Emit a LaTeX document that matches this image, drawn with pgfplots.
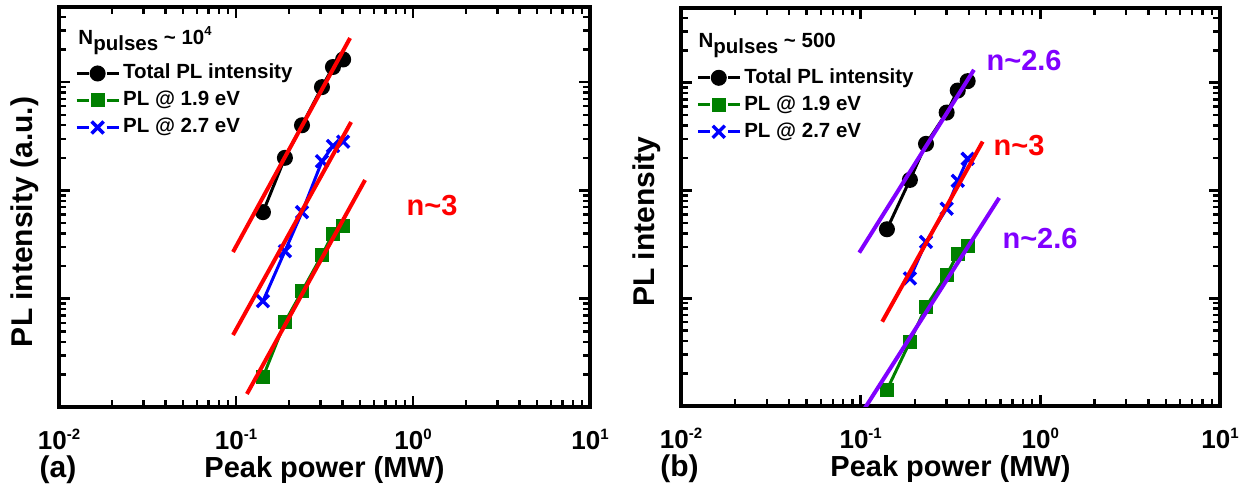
\documentclass[border=0pt]{standalone}
\usepackage{fontspec}
\setmainfont{Liberation Sans}
\usepackage{pgfplots}
\pgfplotsset{compat=1.18}
\definecolor{pgreen}{RGB}{0,128,0}
\definecolor{pviolet}{RGB}{128,0,255}
\newcommand\tlab[1]{10\raisebox{10pt}{\fontsize{15}{15}\selectfont #1}}
\newcommand\nlab{\fontsize{29}{29}\selectfont\bfseries}
\pgfplotsset{
 every axis/.append style={
  scale only axis, xmin=0.01, xmax=10, ymin=1, ymax=4943, clip mode=individual,
  xtick={0.01,0.1,1,10}, xticklabels={\tlab{-2},\tlab{-1},\tlab{0},\tlab{1}},
  extra x ticks={0.02,0.03,0.04,0.05,0.06,0.07,0.08,0.09,0.2,0.3,0.4,0.5,0.6,0.7,0.8,0.9,2,3,4,5,6,7,8,9},
  extra x tick labels={},
  ytick={1,10,100,1000}, yticklabels={},
  extra y ticks={2,3,4,5,6,7,8,9,20,30,40,50,60,70,80,90,200,300,400,500,600,700,800,900,2000,3000,4000},
  extra y tick labels={},
  extra tick style={major tick length=7pt, every major tick/.append style={line width=2.4pt, black}},
  xtick pos=both, ytick pos=both, tick align=inside,
  major tick length=11pt,
  every major tick/.append style={line width=2.6pt, black},
  axis line style={line width=3.5pt},
  xticklabel style={font=\fontsize{26}{26}\selectfont\bfseries, anchor=base, yshift=-42pt},
  xlabel style={font=\fontsize{29}{29}\selectfont\bfseries, at={(axis description cs:0.5,0)}, anchor=base, yshift=-70pt},
  ylabel style={font=\fontsize{30}{30}\selectfont\bfseries, at={(axis description cs:-0.064,0.4625)}, anchor=center},
  legend cell align=left,
  legend style={anchor=north west, draw=none, fill=none, inner sep=0pt,
    font=\fontsize{20.5}{20.5}\selectfont\bfseries, row sep=4pt,
    nodes={inner xsep=3pt, inner ysep=2pt, text height=15pt, text depth=4pt}},
 },
 legend image code/.code={\draw[mark repeat=2,mark phase=2,#1,dash pattern=on 12pt off 18pt on 12pt] plot coordinates {(0pt,0pt)(21pt,0pt)(42pt,0pt)};},
 stot/.style={black, line width=3pt, mark=*, mark size=6.5pt, mark options={solid}},
 sg/.style={pgreen, line width=3pt, mark=square*, mark size=5.5pt, mark options={solid}},
 sb/.style={blue, line width=3pt, mark=x, mark size=8.5pt, mark options={solid, line width=3.4pt}},
 fitl/.style={line width=4pt, forget plot},
}
\begin{document}
\begin{tikzpicture}
\useasboundingbox (0,0) rectangle (1249pt,495pt);
% ---------------- panel (a)
\begin{loglogaxis}[at={(59pt,88pt)}, anchor=south west, width=531pt, height=400pt,
  xlabel={Peak power (MW)}, ylabel={PL intensity (a.u.)},
  legend style={at={(axis description cs:0.030,0.863)}}]
\addplot[stot] coordinates {(0.142,63) (0.189,200) (0.236,400) (0.306,900) (0.353,1380) (0.403,1620)};
\addlegendentry{Total PL intensity}
\addplot[sg] coordinates {(0.142,1.89) (0.189,6.08) (0.236,11.7) (0.306,25.3) (0.353,40) (0.403,46.7)};
\addlegendentry{PL @ 1.9 eV}
\addplot[sb] coordinates {(0.142,9.5) (0.189,27.5) (0.236,63) (0.306,186) (0.353,257) (0.403,282)};
\addlegendentry{PL @ 2.7 eV}
\addplot[fitl, red] coordinates {(0.0962,27.0) (0.441,2553)};
\addplot[fitl, red] coordinates {(0.0962,4.62) (0.447,428)};
\addplot[fitl, red] coordinates {(0.1153,1.32) (0.536,124.7)};
\node[anchor=west, text=red, font=\nlab] at (axis cs:0.879,71.8) {n\textasciitilde3};
\node[anchor=base west, font=\fontsize{20.5}{20.5}\selectfont\bfseries] at (axis description cs:0.030,0.905)
  {N\raisebox{-6pt}{pulses} \textasciitilde{} 10\raisebox{9pt}{\fontsize{13}{13}\selectfont 4}};
\node[anchor=base west, font=\fontsize{30}{30}\selectfont\bfseries] at (axis description cs:-0.043,-0.177) {(a)};
\end{loglogaxis}
% ---------------- panel (b)
\begin{loglogaxis}[at={(681pt,89pt)}, anchor=south west, width=539pt, height=398pt,
  xlabel={Peak power (MW)}, ylabel={PL intensity},
  legend style={at={(axis description cs:0.028,0.854)}}]
\addplot[stot] coordinates {(0.140,43.7) (0.188,125.4) (0.231,271) (0.301,529) (0.347,847) (0.394,1035)};
\addlegendentry{Total PL intensity}
\addplot[sg] coordinates {(0.140,1.41) (0.188,3.95) (0.231,8.36) (0.301,16.5) (0.347,25.8) (0.394,30.6)};
\addlegendentry{PL @ 1.9 eV}
\addplot[sb] coordinates {(0.188,15.3) (0.231,33.3) (0.301,67.9) (0.347,123) (0.394,197)};
\addlegendentry{PL @ 2.7 eV}
\addplot[fitl, pviolet] coordinates {(0.0982,26.5) (0.427,1318)};
\addplot[fitl, red] coordinates {(0.1318,6.06) (0.4776,284.5)};
\addplot[fitl, pviolet] coordinates {(0.100,0.83) (0.590,85.4)};
\node[anchor=west, text=pviolet, font=\nlab] at (axis cs:0.480,1596) {n\textasciitilde2.6};
\node[anchor=west, text=red, font=\nlab] at (axis cs:0.525,259) {n\textasciitilde3};
\node[anchor=west, text=pviolet, font=\nlab] at (axis cs:0.589,35.5) {n\textasciitilde2.6};
\node[anchor=base west, font=\fontsize{20.5}{20.5}\selectfont\bfseries] at (axis description cs:0.026,0.8995)
  {N\raisebox{-6pt}{pulses} \textasciitilde{} 500};
\node[anchor=base west, font=\fontsize{30}{30}\selectfont\bfseries] at (axis description cs:-0.045,-0.177) {(b)};
\end{loglogaxis}
\end{tikzpicture}
\end{document}
